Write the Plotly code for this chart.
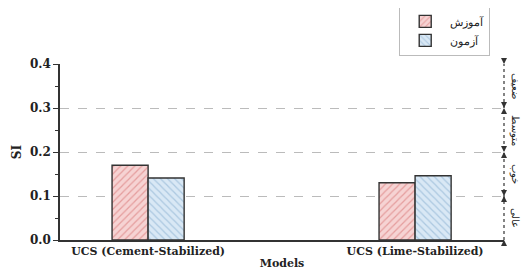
import plotly.graph_objects as go

categories = ["UCS (Cement-Stabilized)", "UCS (Lime-Stabilized)"]
train_si = [0.17, 0.13]
test_si = [0.141, 0.146]
series_names = ["آموزش", "آزمون"]
y_ticks = [0.0, 0.1, 0.2, 0.3, 0.4]
y_tick_labels = ["0.0", "0.1", "0.2", "0.3", "0.4"]
scale_bounds = [0.0, 0.1, 0.2, 0.3, 0.4]
scale_labels = ["عالی", "خوب", "متوسط", "ضعیف"]

serif = "DejaVu Serif"

fig = go.Figure()
fig.add_trace(go.Bar(
    x=categories, y=train_si, name=series_names[0],
    marker=dict(color="#f6d3d3", line=dict(color="#333333", width=1.4),
                pattern=dict(shape="/", fgcolor="#d46a6a", size=5, solidity=0.25)),
))
fig.add_trace(go.Bar(
    x=categories, y=test_si, name=series_names[1],
    marker=dict(color="#d9e8f5", line=dict(color="#333333", width=1.4),
                pattern=dict(shape="\\", fgcolor="#7fa8cc", size=5, solidity=0.25)),
))

# right-side scale: dotted line with arrowheads
fig.add_shape(type="line", xref="paper", yref="y", x0=1.0, x1=1.0,
              y0=scale_bounds[0], y1=scale_bounds[-1],
              line=dict(color="#333333", width=1.2, dash="dot"))
anns = []
for i, b in enumerate(scale_bounds):
    if i > 0:
        anns.append(dict(xref="paper", yref="y", x=1.0, y=b, ax=0, ay=-7,
                         showarrow=True, arrowhead=2, arrowsize=1, arrowwidth=1.2,
                         arrowcolor="#333333", text=""))
    if i < len(scale_bounds) - 1:
        anns.append(dict(xref="paper", yref="y", x=1.0, y=b, ax=0, ay=7,
                         showarrow=True, arrowhead=2, arrowsize=1, arrowwidth=1.2,
                         arrowcolor="#333333", text=""))
for i, lab in enumerate(scale_labels):
    mid = (scale_bounds[i] + scale_bounds[i + 1]) / 2
    anns.append(dict(xref="paper", yref="y", x=1.0, xshift=21, y=mid, text=lab,
                     showarrow=False, textangle=90,
                     font=dict(family="Noto Sans", size=10, color="#222222")))

# the page body adds an 8px margin; the figure is sized so the plot lands where it should
fig.update_layout(
    width=522, height=268,
    margin=dict(l=52, r=26, t=56, b=36, autoexpand=False),
    paper_bgcolor="white", plot_bgcolor="white",
    barmode="group", bargap=0.73, bargroupgap=0,
    annotations=anns,
    showlegend=True,
    legend=dict(x=0.764, y=1.33, xanchor="left", yanchor="top",
                bordercolor="#bbbbbb", borderwidth=1, bgcolor="white",
                font=dict(family="Noto Sans", size=11, color="#222222"),
                itemwidth=40, tracegroupgap=2),
    xaxis=dict(range=[-0.33, 1.333], showline=True, linecolor="#333333", linewidth=1.5,
               ticks="", showgrid=False, zeroline=False, automargin=False,
               tickfont=dict(family=serif, size=11, color="#222222", weight="bold"),
               title=dict(text="<b>Models</b>", font=dict(family=serif, size=11, color="#222222"),
                          standoff=2)),
    yaxis=dict(range=[0, 0.4], tickvals=y_ticks, ticktext=y_tick_labels,
               showline=True, linecolor="#333333", linewidth=1.5, automargin=False,
               ticks="outside", ticklen=5, tickcolor="#333333", tickwidth=1.2,
               minor=dict(ticks="outside", ticklen=3, dtick=0.05, tickcolor="#333333"),
               showgrid=True, gridcolor="#bbbbbb", griddash="dash", gridwidth=1,
               zeroline=False,
               tickfont=dict(family=serif, size=12, color="#222222", weight="bold"),
               title=dict(text="<b>SI</b>", font=dict(family=serif, size=12, color="#222222"),
                          standoff=6)),
)

fig.write_html("out.html")
